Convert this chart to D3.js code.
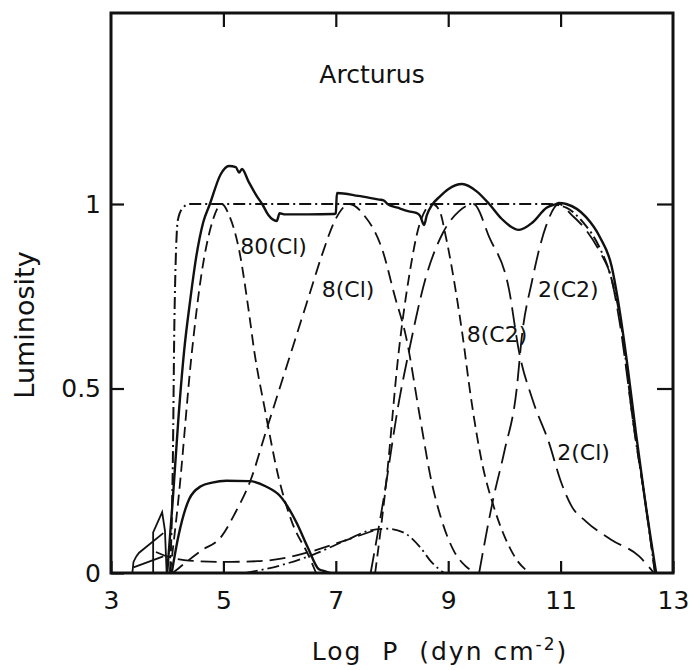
<!DOCTYPE html>
<html>
<head>
<meta charset="utf-8">
<script src="https://cdn.jsdelivr.net/npm/d3@7"></script>
<style>
  body { margin: 0; background: #fff; }
  text { font-family: "DejaVu Sans", sans-serif; fill: #111; }
</style>
</head>
<body>
<script>
var width = 694;
var height = 670;

// ---- data: [log P, luminosity] ----
var totalSolid = [[4.0,0],[4.1,0.2],[4.2,0.42],[4.3,0.6],[4.41,0.74],[4.52,0.86],[4.64,0.95],[4.76,1.0],[4.95,1.08],[5.1,1.103],[5.22,1.1],
  [5.28,1.085],[5.33,1.095],[5.45,1.06],[5.6,1.02],[5.69,1.0],[5.8,0.97],[5.95,0.954],[6.0,0.975],[6.1,0.972],[6.5,0.972],
  [6.97,0.973],[7.0,0.975],[7.02,1.03],[7.4,1.022],[7.77,1.012],[7.85,1.01],[7.92,1.0],[8.1,0.99],[8.3,0.98],[8.43,0.976],
  [8.5,0.968],[8.57,0.943],[8.62,0.97],[8.71,0.997],[8.85,1.02],[9.0,1.04],[9.25,1.054],[9.5,1.035],[9.73,1.0],[9.95,0.96],
  [10.26,0.93],[10.5,0.95],[10.75,0.99],[10.92,1.0],[10.97,1.003],[11.1,1.0],[11.45,0.965],[11.7,0.91],[11.91,0.83],
  [12.02,0.74],[12.2,0.55],[12.34,0.38],[12.5,0.2],[12.7,0.0]];

var dashDotTop = [[4.05,0],[4.1,0.3],[4.13,0.7],[4.19,0.957],[4.28,0.99],[4.4,1.0],[10.8,1.0],[11.1,0.99],[11.4,0.95],
  [11.7,0.88],[11.9,0.8],[12.05,0.7],[12.3,0.4],[12.5,0.2],[12.68,0]];

var c80C1 = [[4.05,0],[4.2,0.2],[4.44,0.6],[4.6,0.8],[4.8,0.95],[4.97,1.0],[5.1,0.97],[5.28,0.875],[5.46,0.7],[5.55,0.6],
  [5.73,0.45],[5.99,0.254],[6.22,0.138],[6.52,0.046],[6.65,0]];

var c8C1 = [[4.1,0],[4.3,0.025],[4.6,0.06],[4.97,0.1],[5.2,0.16],[5.49,0.254],[5.75,0.38],[6.0,0.5],[6.25,0.62],[6.5,0.74],
  [6.75,0.86],[7.0,0.96],[7.24,1.0],[7.5,0.97],[7.83,0.875],[8.05,0.75],[8.25,0.64],[8.5,0.42],[8.7,0.25],[8.87,0.15],
  [9.1,0.06],[9.3,0.02],[9.5,0]];

var c8C2 = [[7.7,0],[7.9,0.25],[8.12,0.6],[8.3,0.8],[8.5,0.95],[8.72,1.0],[8.85,0.98],[8.96,0.91],[9.16,0.74],[9.25,0.65],
  [9.4,0.48],[9.6,0.3],[9.81,0.18],[10.0,0.1],[10.2,0.04],[10.45,0]];

var c2C1 = [[7.62,0],[7.85,0.2],[8.13,0.47],[8.3,0.6],[8.6,0.8],[8.9,0.92],[9.19,0.98],[9.45,1.0],[9.73,0.91],[10.08,0.77],
  [10.26,0.6],[10.5,0.47],[10.8,0.35],[11.0,0.25],[11.2,0.18],[11.45,0.14],[11.9,0.09],[12.4,0.045],[12.66,0]];

var c2C2 = [[9.55,0],[9.8,0.2],[10.0,0.33],[10.22,0.5],[10.31,0.64],[10.49,0.79],[10.74,0.94],[10.97,1.0],[11.2,0.97],
  [11.45,0.93],[11.7,0.87],[11.9,0.8],[12.05,0.68],[12.3,0.4],[12.5,0.2],[12.68,0]];

var bellSolid = [[4.08,0],[4.2,0.1],[4.39,0.2],[4.6,0.235],[4.8,0.245],[5.05,0.25],[5.46,0.249],[5.75,0.235],[6.0,0.21],
  [6.3,0.137],[6.5,0.07],[6.7,0.01],[6.8,0.005],[6.9,0]];

var lowDash = [[3.8,0.057],[4.0,0.045],[4.3,0.035],[5.0,0.03],[5.6,0.032],[6.0,0.038],[6.6,0.06],[7.2,0.09],[7.77,0.12]];
var humpDashDot = [[5.4,0],[6.0,0.02],[6.6,0.05],[7.2,0.09],[7.6,0.115],[7.9,0.12],[8.2,0.11],[8.5,0.07],[8.7,0.03],[8.93,0]];

var lowSolidA = [[3.38,0],[3.4,0.03],[3.45,0.045],[3.5,0.055],[3.93,0.108]];
var lowSolidB = [[3.4,0.015],[3.75,0.035],[3.93,0.045]];
var lowSolidC = [[3.75,0],[3.75,0.11],[3.91,0.165],[3.96,0.115],[3.99,0]];

var xTicks = [3, 5, 7, 9, 11, 13];
var yTicks = [0, 0.5, 1];
var yTickLabels = ["0", "0.5", "1"];

var labels = [
  {text: "80(Cl)", x: 5.3, y: 0.865},
  {text: "8(Cl)", x: 6.75, y: 0.748},
  {text: "8(C2)", x: 9.33, y: 0.626},
  {text: "2(C2)", x: 10.6, y: 0.748},
  {text: "2(Cl)", x: 10.94, y: 0.306}
];

// ---- layout ----
var x = d3.scaleLinear().domain([3, 13]).range([111, 673]);
var y = d3.scaleLinear().domain([0, 1]).range([573, 204]);
var yTop = y.invert(13);

var svg = d3.select("body").append("svg")
    .attr("width", width)
    .attr("height", height);

var line = d3.line()
    .x(function(d) { return x(d[0]); })
    .y(function(d) { return y(d[1]); })
    .curve(d3.curveMonotoneX);

var lineLin = d3.line()
    .x(function(d) { return x(d[0]); })
    .y(function(d) { return y(d[1]); });

var series = [
  {data: c80C1, dash: "11,6", w: 1.8},
  {data: c8C1, dash: "13,7", w: 1.8},
  {data: c8C2, dash: "11,6", w: 1.8},
  {data: c2C1, dash: "20,8", w: 1.8},
  {data: c2C2, dash: "20,8", w: 1.8},
  {data: lowDash, dash: "16,7", w: 1.8},
  {data: humpDashDot, dash: "12,4,2,4", w: 1.8},
  {data: dashDotTop, dash: "12,4,2,4", w: 2},
  {data: bellSolid, dash: null, w: 2.4},
  {data: totalSolid, dash: null, w: 2.4}
];

var plot = svg.append("g");

plot.selectAll("path.curve")
  .data(series)
  .enter().append("path")
    .attr("class", "curve")
    .attr("d", function(d) { return line(d.data); })
    .attr("fill", "none")
    .attr("stroke", "#111")
    .attr("stroke-width", function(d) { return d.w; })
    .attr("stroke-dasharray", function(d) { return d.dash; });

plot.selectAll("path.low")
  .data([lowSolidA, lowSolidB, lowSolidC])
  .enter().append("path")
    .attr("class", "low")
    .attr("d", lineLin)
    .attr("fill", "none")
    .attr("stroke", "#111")
    .attr("stroke-width", 1.8);

// ---- axes ----
var xAxis = svg.append("g")
    .attr("transform", "translate(0," + y(0) + ")")
    .call(d3.axisBottom(x).tickValues(xTicks).tickSize(-12).tickPadding(18).tickFormat(d3.format("d")));

var xAxisTop = svg.append("g")
    .attr("transform", "translate(0," + y(yTop) + ")")
    .call(d3.axisTop(x).tickValues([5, 7, 9, 11]).tickSize(-14).tickFormat(""));

var yAxis = svg.append("g")
    .attr("transform", "translate(" + x(3) + ",0)")
    .call(d3.axisLeft(y).tickValues(yTicks).tickSize(-13).tickPadding(10)
      .tickFormat(function(d, i) { return yTickLabels[i]; }));

var yAxisRight = svg.append("g")
    .attr("transform", "translate(" + x(13) + ",0)")
    .call(d3.axisRight(y).tickValues([0.5, 1]).tickSize(-16).tickFormat(""));

svg.selectAll(".domain").remove();
svg.selectAll(".tick line").attr("stroke", "#111").attr("stroke-width", 2.2);
svg.selectAll(".tick text").style("font-size", "25px").style("font-family", "DejaVu Sans, sans-serif").attr("fill", "#111");

// frame
svg.append("rect")
    .attr("x", x(3))
    .attr("y", y(yTop))
    .attr("width", x(13) - x(3))
    .attr("height", y(0) - y(yTop))
    .attr("fill", "none")
    .attr("stroke", "#111")
    .attr("stroke-width", 3);

// ---- texts ----
svg.append("text")
    .attr("x", 372)
    .attr("y", 83)
    .attr("text-anchor", "middle")
    .style("font-size", "25px")
    .text("Arcturus");

svg.selectAll("text.lbl")
  .data(labels)
  .enter().append("text")
    .attr("class", "lbl")
    .attr("x", function(d) { return x(d.x); })
    .attr("y", function(d) { return y(d.y); })
    .style("font-size", "22px")
    .text(function(d) { return d.text; });

svg.append("text")
    .attr("transform", "translate(34,325) rotate(-90)")
    .attr("text-anchor", "middle")
    .style("font-size", "27px")
    .text("Luminosity");

var xt = svg.append("text")
    .attr("x", 440)
    .attr("y", 660)
    .attr("text-anchor", "middle")
    .style("font-size", "25px")
    .style("letter-spacing", "2px")
    .attr("xml:space", "preserve");
xt.append("tspan").text("Log  P  (dyn cm");
xt.append("tspan").attr("dy", -10).style("font-size", "17px").text("-2");
xt.append("tspan").attr("dy", 10).text(")");
</script>
</body>
</html>
